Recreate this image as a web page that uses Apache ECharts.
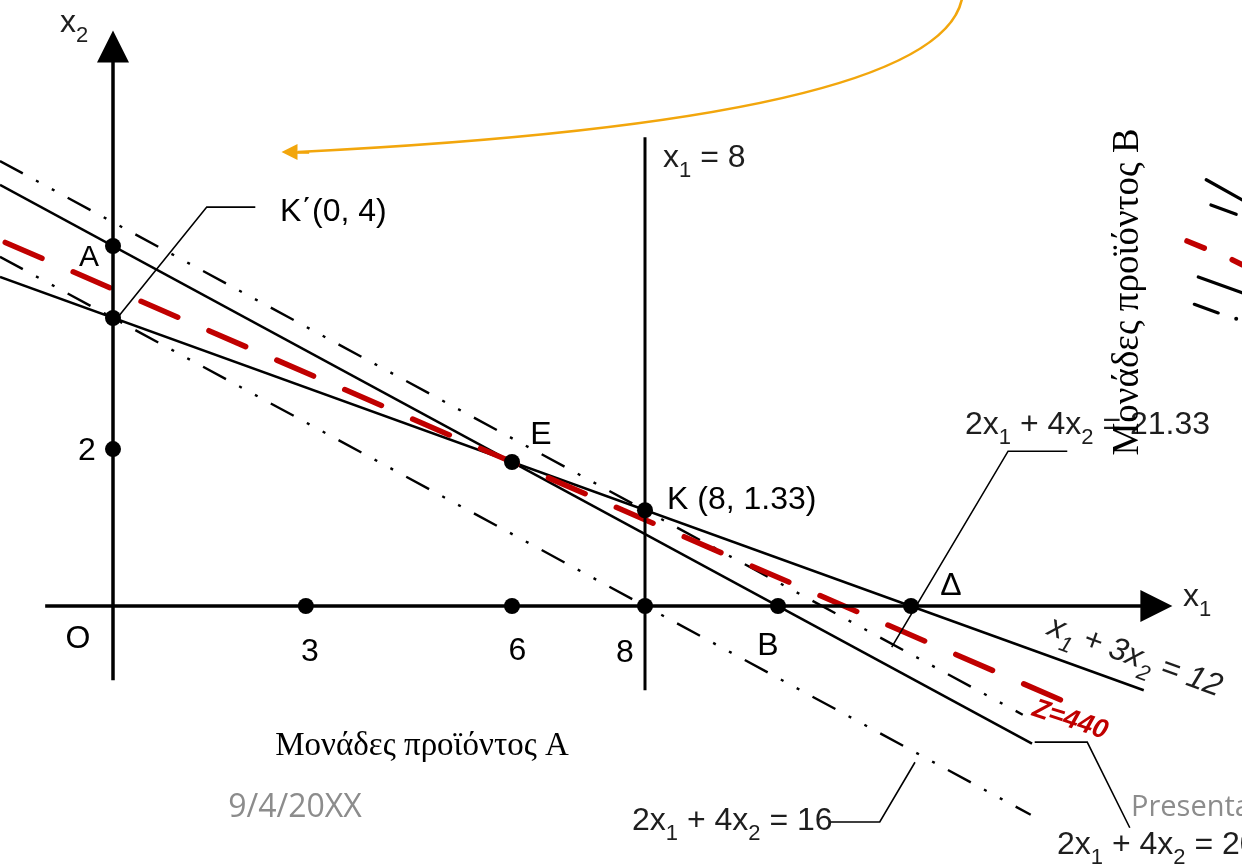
<!DOCTYPE html>
<html lang="el">
<head>
<meta charset="utf-8">
<title>Γραφική επίλυση</title>
<script src="https://cdn.jsdelivr.net/npm/echarts@6.0.0/dist/echarts.min.js"></script>
<style>
  html, body { margin: 0; padding: 0; background: #ffffff; overflow: hidden; }
  #chart { width: 1242px; height: 864px; }
</style>
</head>
<body>
<div id="chart"></div>
<script>
  // visible window of the drawing, in x1 / x2 units
  var xView = [-1.6992, 16.9774]
  var yView = [-3.5833, 8.4167]

  // axes and the line x1 = 8
  var axisX1 = [[-1.02, 0], [15.69, 0]]
  var axisX2 = [[0, -1.03], [0, 7.77]]
  var lineX1is8 = [[8, 6.51], [8, -1.17]]

  // constraints and objective, end points
  var line12 = [[-1.7, 4.57], [15.5, -1.17]]      // x1 + 3x2 = 12
  var line20 = [[-1.7, 5.85], [13.82, -1.91]]     // 2x1 + 4x2 = 20
  var line16 = [[-1.7, 4.85], [13.8, -2.9]]       // 2x1 + 4x2 = 16
  var line2133 = [[-1.7, 6.18], [13.68, -1.51]]   // 2x1 + 4x2 = 21.33
  var lineZ440 = [[-1.62, 5.05], [14.29, -1.32]]  // Z = 440

  // marked points
  var pointNames = ['A', 'K΄(0, 4)', '2', '3', '6', '8', 'B', 'Δ', 'E', 'K (8, 1.33)']
  var pointX = [0, 0, 0, 2.9, 6, 8, 10, 12, 6, 8]
  var pointY = [5, 4, 2.18, 0, 0, 0, 0, 0, 2, 1.33]

  // callout leaders
  var leaderK0 = [[0.1, 4.04], [1.41, 5.54], [2.14, 5.54]]
  var leader2133 = [[11.71, -0.57], [13.46, 2.15], [14.35, 2.15]]
  var leader16 = [[10.78, -3.0], [11.53, -3.0], [12.06, -2.17]]
  var leader20 = [[13.86, -1.89], [14.65, -1.89], [15.29, -3.08]]

  // orange return arrow at the top: start, bend, end of the curve
  var arcStart = [12.77, 8.45]
  var arcBend = [12.44, 6.75]
  var arcEnd = [2.78, 6.306]
  var arcHead = [[2.95, 6.306], [2.654, 6.306]]

  // bits of the next copy of the drawing, cut by the right edge
  var edgeBlack = [[[16.44, 5.92], [16.98, 5.64]], [[16.51, 5.57], [16.89, 5.44]], [[16.32, 4.57], [16.98, 4.35]], [[16.26, 4.19], [16.62, 4.07]]]
  var edgeRed = [[[16.15, 5.07], [16.41, 4.97]], [[16.83, 4.81], [16.98, 4.74]]]
  var edgeDot = [[16.89, 3.99]]

  // label placement for the points (px from the dot)
  var labelOffsets = [[-24, 12], [167, -106], [-26, 2], [4, 46], [5.5, 45.5], [-20, 47.5], [-10, 40.5], [40, -20], [29, -27], [22, -10]]
  var labelAligns = ['center', 'left', 'center', 'center', 'center', 'center', 'center', 'center', 'center', 'left']

  var sans = "'Liberation Sans', Arial, sans-serif"
  var serif = "'Liberation Serif', 'Times New Roman', serif"
  var red = '#c00000'
  var orange = '#f2a60c'
  var eqColor = '#1e1e1e'

  function segment (data, color, width, dash, cap) {
    return {
      type: 'line',
      data: data,
      symbol: 'none',
      silent: true,
      z: 2,
      lineStyle: { color: color, width: width, type: dash || 'solid', cap: cap || 'butt', join: 'miter' }
    }
  }

  function arrows (list, color, width, size) {
    return {
      type: 'lines',
      coordinateSystem: 'cartesian2d',
      silent: true,
      z: 3,
      symbol: ['none', 'triangle'],
      symbolSize: size,
      data: list.map(function (c) { return { coords: c } }),
      lineStyle: { color: color, width: width, opacity: 1, curveness: 0 }
    }
  }

  // main text + lowered subscript
  function eqRich (italic) {
    var st = italic ? 'italic' : 'normal'
    return {
      m: { fontFamily: sans, fontSize: 32, lineHeight: 34, fill: eqColor, fontStyle: st },
      s: { fontFamily: sans, fontSize: 22, lineHeight: 22, padding: [26, 0, 0, 0], fill: eqColor, fontStyle: st }
    }
  }

  function textEl (x, y, text, rich, align, rotation) {
    return {
      type: 'text', x: x, y: y, rotation: rotation || 0, z: 20, silent: true,
      style: { text: text, rich: rich, align: align || 'left', verticalAlign: 'middle' }
    }
  }

  function plainText (x, y, text, font, fill, align, rotation) {
    return {
      type: 'text', x: x, y: y, rotation: rotation || 0, z: 21, silent: true,
      style: { text: text, font: font, fill: fill, align: align || 'center', verticalAlign: 'middle' }
    }
  }

  var dashDotDot = [26, 15, 3, 15, 3, 15]

  var series = [
    segment(line12, '#000', 2.6),
    segment(line20, '#000', 2.6),
    segment(line16, '#000', 2.4, dashDotDot),
    segment(line2133, '#000', 2.4, dashDotDot),
    segment(lineZ440, red, 5.5, [40, 34], 'round'),
    segment(lineX1is8, '#000', 3),
    segment(leaderK0, '#000', 1.6),
    segment(leader2133, '#000', 1.6),
    segment(leader16, '#000', 1.6),
    segment(leader20, '#000', 1.6),
    {
      // the curved orange arrow, as one quadratic curve through the axes' scales
      type: 'custom',
      silent: true,
      clip: false,
      data: [arcStart],
      renderItem: function (params, api) {
        var p0 = api.coord(arcStart)
        var c = api.coord(arcBend)
        var p1 = api.coord(arcEnd)
        return {
          type: 'bezierCurve',
          shape: { x1: p0[0], y1: p0[1], cpx1: c[0], cpy1: c[1], x2: p1[0], y2: p1[1] },
          style: { stroke: orange, lineWidth: 2.6, fill: null }
        }
      }
    },
    arrows([arcHead], orange, 2.6, [15, 16]),
    arrows([axisX1, axisX2], '#000', 3.5, [21, 32]),
    {
      type: 'lines',
      coordinateSystem: 'cartesian2d',
      silent: true,
      data: edgeBlack.map(function (c) { return { coords: c } }),
      lineStyle: { color: '#000', width: 3.2, opacity: 1, cap: 'round' }
    },
    {
      type: 'lines',
      coordinateSystem: 'cartesian2d',
      silent: true,
      data: edgeRed.map(function (c) { return { coords: c } }),
      lineStyle: { color: red, width: 5.5, opacity: 1, cap: 'round' }
    },
    {
      type: 'scatter',
      data: edgeDot,
      symbolSize: 4,
      silent: true,
      itemStyle: { color: '#000', opacity: 1 }
    },
    {
      type: 'scatter',
      symbolSize: 16,
      silent: true,
      z: 5,
      itemStyle: { color: '#000', opacity: 1 },
      data: pointNames.map(function (name, i) {
        return {
          value: [pointX[i], pointY[i]],
          label: {
            show: true,
            position: 'inside',
            formatter: name,
            offset: labelOffsets[i],
            align: labelAligns[i],
            verticalAlign: 'middle',
            color: '#000',
            opacity: 1,
            fontFamily: sans,
            fontSize: i === 0 ? 30 : 32
          }
        }
      })
    }
  ]

  var texts = [
    textEl(60, 23, '{m|x}{s|2}', eqRich(false)),
    textEl(1183, 597, '{m|x}{s|1}', eqRich(false)),
    textEl(663, 158, '{m|x}{s|1}{m| = 8}', eqRich(false)),
    textEl(965, 425, '{m|2x}{s|1}{m| + 4x}{s|2}{m| = 21.33}', eqRich(false)),
    textEl(1135, 657, '{m|x}{s|1}{m| + 3x}{s|2}{m| = 12}', eqRich(true), 'center', -20 * Math.PI / 180),
    textEl(632, 821, '{m|2x}{s|1}{m| + 4x}{s|2}{m| = 16}', eqRich(false)),
    textEl(1057, 845, '{m|2x}{s|1}{m| + 4x}{s|2}{m| = 20}', eqRich(false)),
    plainText(1070, 720, 'Z=440', 'italic bold 27px ' + sans, red, 'center', -18 * Math.PI / 180),
    plainText(78, 639, 'O', '32px ' + sans, '#000'),
    plainText(422, 746, 'Μονάδες προϊόντος Α', '33px ' + serif, '#000'),
    plainText(1128, 292, 'Μονάδες προϊόντος Β', '37px ' + serif, '#000', 'center', Math.PI / 2),
    plainText(295, 808, '9/4/20XX', "32px 'Open Sans', sans-serif", '#8c8c8c'),
    plainText(1131, 808, 'Presentation Title', "29px 'Open Sans', sans-serif", '#8c8c8c', 'left')
  ]

  var chart = echarts.init(document.getElementById('chart'))
  chart.setOption({
    animation: false,
    backgroundColor: '#ffffff',
    grid: { left: 0, right: 0, top: 0, bottom: 0 },
    xAxis: { type: 'value', min: xView[0], max: xView[1], show: false },
    yAxis: { type: 'value', min: yView[0], max: yView[1], show: false },
    series: series,
    graphic: texts
  })
</script>
</body>
</html>
